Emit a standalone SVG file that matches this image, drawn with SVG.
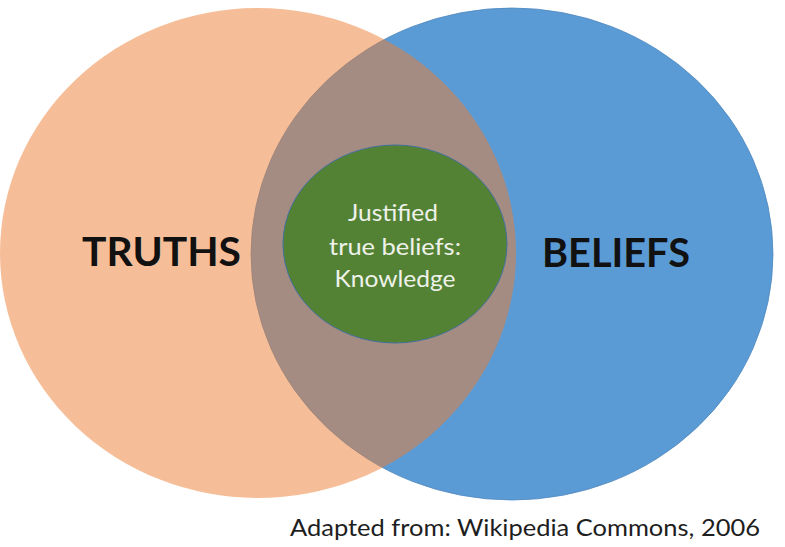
<svg xmlns="http://www.w3.org/2000/svg" width="785" height="547" viewBox="0 0 785 547">
  <style>
    .label { font-family: Lato, "Open Sans", "Liberation Sans", sans-serif; font-weight: 700; font-size: 40px; fill: #111111; }
    .inner { font-family: Lato, "Open Sans", "Liberation Sans", sans-serif; font-size: 24px; fill: #EEF2EA; text-anchor: middle; }
    .caption { font-family: Lato, "Open Sans", "Liberation Sans", sans-serif; font-size: 23px; fill: #1E1E1E; }
  </style>
  <rect width="785" height="547" fill="#FFFFFF"/>

  <!-- Beliefs set (drawn first, opaque) -->
  <g id="beliefs">
    <ellipse cx="512" cy="254" rx="261" ry="246" fill="#5B9BD5" stroke="#4F88BD" stroke-width="0.8"/>
    <text class="label" x="542" y="267" textLength="148" lengthAdjust="spacingAndGlyphs">BELIEFS</text>
  </g>

  <!-- Truths set (semi-transparent, overlaps beliefs) -->
  <g id="truths">
    <ellipse cx="258" cy="253" rx="258" ry="245" fill="#ED7D31" fill-opacity="0.5"/>
    <text class="label" x="82" y="266" textLength="159" lengthAdjust="spacingAndGlyphs">TRUTHS</text>
  </g>

  <!-- Knowledge: justified true beliefs -->
  <g id="knowledge">
    <ellipse cx="395" cy="244" rx="112" ry="99" fill="#548235" stroke="#41719C" stroke-width="1"/>
    <text class="inner" x="393" y="221" textLength="90" lengthAdjust="spacingAndGlyphs">Justified</text>
    <text class="inner" x="395" y="255" textLength="132" lengthAdjust="spacingAndGlyphs">true beliefs:</text>
    <text class="inner" x="395" y="287" textLength="121" lengthAdjust="spacingAndGlyphs">Knowledge</text>
  </g>

  <g id="connectors"/>

  <text class="caption" x="290" y="536" textLength="470" lengthAdjust="spacingAndGlyphs">Adapted from: Wikipedia Commons, 2006</text>
</svg>
